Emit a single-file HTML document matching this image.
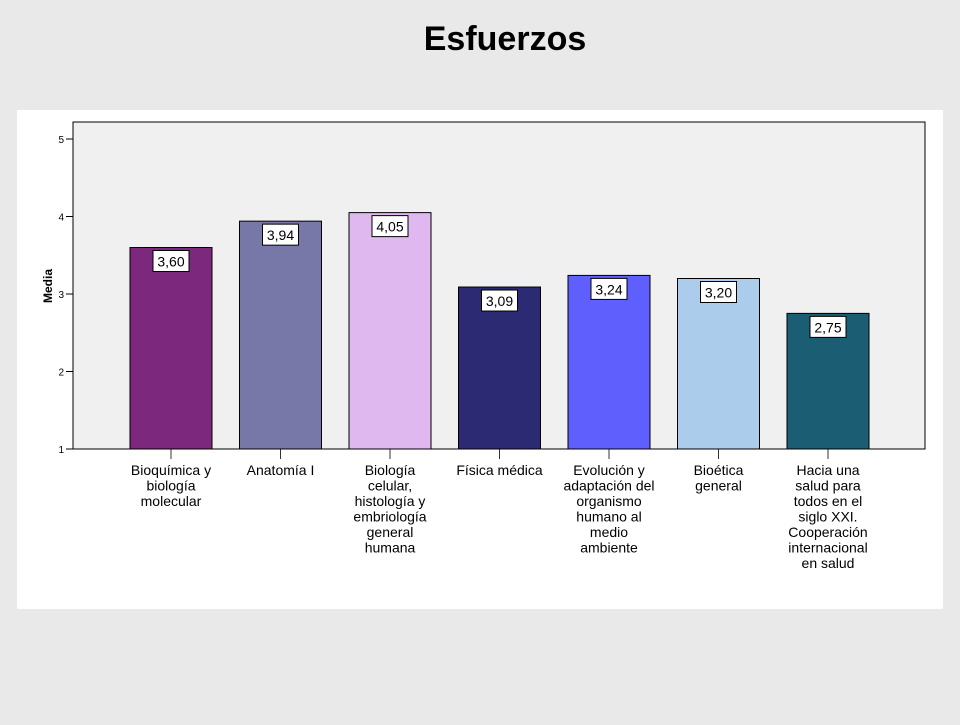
<!DOCTYPE html>
<html><head><meta charset="utf-8"><style>
body{margin:0;width:960px;height:720px;background:#e9e9e9;font-family:"Liberation Sans",sans-serif;overflow:hidden}
</style></head><body>
<svg width="960" height="720" xmlns="http://www.w3.org/2000/svg">
<text x="505" y="50" text-anchor="middle" font-family="Liberation Sans, sans-serif" font-weight="bold" font-size="34" fill="#000">Esfuerzos</text>
<rect x="17" y="110" width="926" height="499" fill="#fff"/>
<rect x="73" y="122" width="852" height="327" fill="#f0f0f0" stroke="#000" stroke-width="1"/>
<text transform="translate(52,286) rotate(-90)" text-anchor="middle" font-weight="bold" font-size="12">Media</text>
<g id="axis"></g><g id="bars"></g>
</svg>
<script>
const categories=[["Bioquímica y","biología","molecular"],["Anatomía I"],["Biología","celular,","histología y","embriología","general","humana"],["Física médica"],["Evolución y","adaptación del","organismo","humano al","medio","ambiente"],["Bioética","general"],["Hacia una","salud para","todos en el","siglo XXI.","Cooperación","internacional","en salud"]];
const values=[3.60,3.94,4.05,3.09,3.24,3.20,2.75];
const valueLabels=["3,60","3,94","4,05","3,09","3,24","3,20","2,75"];
const colors=["#7b287d","#7878a8","#dfb8f0","#2b2a73","#5f5ffd","#abcdeb","#1b5e74"];
const yTicks=[1,2,3,4,5];
const NS="http://www.w3.org/2000/svg";
const y=v=>449-(v-1)*77.5;
const xC=i=>171+i*109.5;
function mk(t,a,p){const e=document.createElementNS(NS,t);for(const k in a)e.setAttribute(k,a[k]);p.appendChild(e);return e;}
const ax=document.getElementById('axis'),bg=document.getElementById('bars');
yTicks.forEach(t=>{
const l=mk('line',{x1:66,x2:73,y1:y(t),y2:y(t),stroke:'#000'},ax);


const tx=mk('text',{x:64,y:y(t)+4,'text-anchor':'end','font-size':10},ax);tx.textContent=t;


});
values.forEach((v,i)=>{
const cx=xC(i);
const r=mk('rect',{x:cx-41,y:y(v),width:82,height:449-y(v),fill:colors[i],stroke:'#000','stroke-width':1},bg);


const b=mk('rect',{x:cx-18,y:y(v)+3,width:36,height:21,fill:'#fff',stroke:'#000','stroke-width':1},bg);


const t=mk('text',{x:cx,y:y(v)+19,'text-anchor':'middle','font-size':14},bg);t.textContent=valueLabels[i];


const tk=mk('line',{x1:cx,x2:cx,y1:449,y2:459,stroke:'#333'},ax);


categories[i].forEach((s,j)=>{
const c=mk('text',{x:cx,y:475+j*15.5,'text-anchor':'middle','font-size':14},ax);c.textContent=s;


});
});
</script>
</body></html>
